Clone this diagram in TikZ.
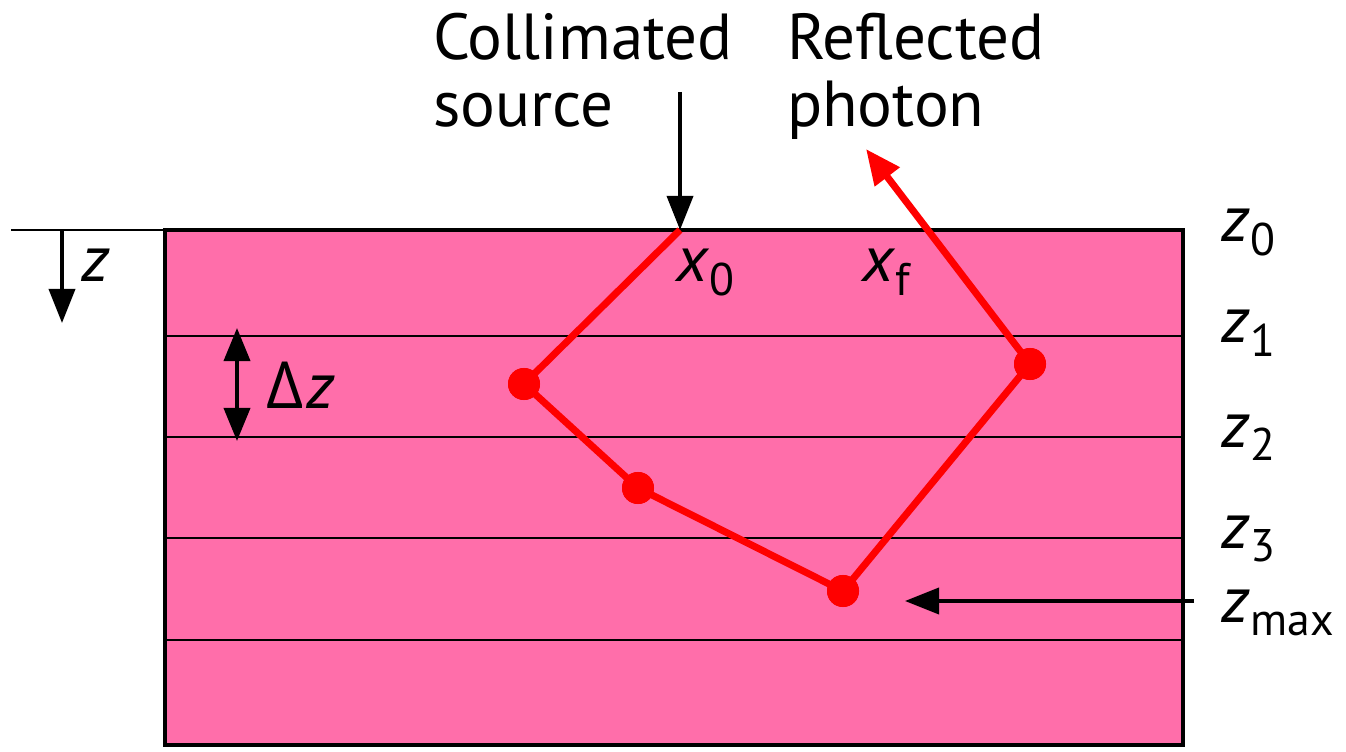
\documentclass[tikz,border=0pt]{standalone}
\usepackage{fontspec}
\setmainfont{PT Sans}
\newfontfamily\grkfont{Open Sans}
\usetikzlibrary{arrows.meta}
\definecolor{tissue}{RGB}{255,110,170}
\definecolor{photon}{RGB}{255,0,0}
\newcommand\zlab[2]{{\itshape #1}\kern0.5pt\raisebox{-3.9pt}{\fontsize{13}{13}\selectfont #2}}
\tikzset{
  lbl/.style={font=\fontsize{18.5}{19}\selectfont, inner sep=0pt, outer sep=0pt},
  layer/.style={line width=0.6pt, black},
  blk/.style={line width=1.1pt, black, -{Triangle[length=9.7pt,width=7.4pt]}},
  blkboth/.style={line width=1.1pt, black, {Triangle[length=9.4pt,width=7.4pt]}-{Triangle[length=9.4pt,width=7.4pt]}},
  ray/.style={line width=2pt, photon, line join=round},
  hit/.style={circle, fill=photon, inner sep=0pt, minimum size=0.32cm},
}
\begin{document}
\begin{tikzpicture}[x=0.01cm,y=-0.01cm]
\useasboundingbox (0,0) rectangle (1346,752);
% medium
\fill[tissue] (165,230) rectangle (1183,745);
\foreach \yy in {336,437,538,640}
  \draw[layer] (165,\yy) -- (1183,\yy);
\draw[layer] (11,230) -- (165,230);
\draw[line width=1.1pt] (165,230) rectangle (1183,745);
% photon path
\coordinate (x0) at (680,230);
\coordinate (tip) at (866,149);
\node[hit] (p1) at (524,384) {};
\node[hit] (p2) at (638,488) {};
\node[hit] (p3) at (843,591) {};
\node[hit] (p4) at (1030,364) {};
\draw[ray] (x0) -- (p1.center) -- (p2.center) -- (p3.center) -- (p4.center);
\draw[ray, -{Triangle[length=10pt,width=8.5pt]}] (p4.center) -- (tip);
\foreach \p in {p1,p2,p3,p4} \node[hit] at (\p) {};
% black arrows
\coordinate (srcTop) at (680,92);
\draw[blk] (srcTop) -- (x0);
\coordinate (zA) at (62,230);
\coordinate (zB) at (62,323);
\draw[blk] (zA) -- (zB);
\coordinate (dzA) at (237,328);
\coordinate (dzB) at (237,441);
\draw[blkboth] (dzA) -- (dzB);
\coordinate (zmA) at (1194,601);
\coordinate (zmB) at (905,601);
\draw[blk] (zmA) -- (zmB);
% labels
\node[lbl, anchor=north west, align=left] (src) at (433,13) {Collimated\\source};
\node[lbl, anchor=north west, align=left] (refl) at (787,13) {Reflected\\photon};
\node[lbl, anchor=base west] (lx0) at (676,282) {\zlab{x}{0}};
\node[lbl, anchor=base west] (lxf) at (862,282) {\zlab{x}{f}};
\node[lbl, anchor=base west] (lz) at (81,282) {\itshape z};
\node[lbl, anchor=base west] (ldz) at (266,409) {{\grkfont Δ}\kern1pt{\itshape z}};
\node[lbl, anchor=base west] (z0) at (1221,242) {\zlab{z}{0}};
\node[lbl, anchor=base west] (z1) at (1221,343) {\zlab{z}{1}};
\node[lbl, anchor=base west] (z2) at (1221,447) {\zlab{z}{2}};
\node[lbl, anchor=base west] (z3) at (1221,548) {\zlab{z}{3}};
\node[lbl, anchor=base west] (zm) at (1221,622) {\zlab{z}{max}};
\end{tikzpicture}
\end{document}
